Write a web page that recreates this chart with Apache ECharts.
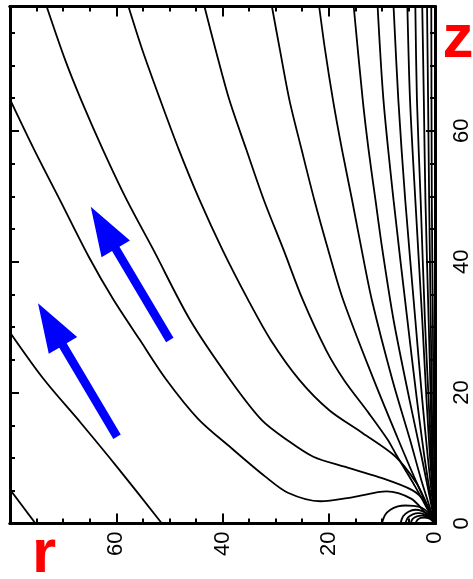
<!DOCTYPE html>
<html>
<head>
<meta charset="utf-8">
<script src="https://cdn.jsdelivr.net/npm/echarts@6/dist/echarts.min.js"></script>
<style>
  html, body { margin: 0; padding: 0; background: #fff; }
  #chart { width: 473px; height: 579px; }
</style>
</head>
<body>
<div id="chart"></div>
<script>
// tick labels
var rTickLabels = [0, 20, 40, 60];
var zTickLabels = [0, 20, 40, 60];

// field lines, points are [r, z]
var lineA = [[80, 5.2], [75.2, 0]];
var lineL = [[80, 29.2], [73.6, 22.0], [66.7, 15.4], [59.9, 8.7], [51.4, 0]];
var lineHump = [[80, 64.8], [75.5, 57.2], [70.4, 49.1], [65.2, 40.8], [60.6, 34.3], [55.6, 28.1], [50.6, 22.0],
  [44.6, 16.0], [38.3, 11.5], [32.0, 7.2], [27.7, 4.7], [21.6, 3.4], [15.6, 4.0], [9.1, 4.9], [4.5, 3.8], [2.0, 1.8], [0, 0]];
var lineT1 = [[73.1, 79], [69.6, 70.8], [66.6, 64.7], [62.5, 57.1], [58.0, 49.4], [53.0, 41.8], [46.1, 31.1],
  [38.5, 21.9], [32.6, 15.8], [27.9, 12.8], [22.9, 10.2], [16.7, 8.6], [10.6, 7.1], [4.3, 5.1], [1.9, 3.3], [0, 0]];
var lineT2 = [[57.7, 79], [55.1, 72.4], [51.7, 64.7], [48.2, 57.1], [44.3, 49.4], [40.0, 41.8], [35.2, 34.2],
  [30.9, 28.0], [25.5, 21.9], [19.9, 17.3], [13.6, 13.8], [7.4, 10.2], [3.5, 6.2], [1.9, 3.6], [0, 0]];
var lineT3 = [[43.4, 79], [41.3, 72.4], [38.7, 64.7], [35.5, 57.1], [32.2, 49.4], [28.5, 41.8], [24.9, 34.2],
  [20.5, 26.5], [17.1, 21.9], [12.5, 16.9], [8.9, 12.8], [7.3, 10.5], [3.7, 5.6], [0, 0]];
var lineT4 = [[30.7, 79], [29.2, 72.4], [27.4, 64.7], [25.1, 57.1], [22.7, 49.4], [20.1, 41.8], [17.3, 34.2],
  [11.5, 21.9], [6.9, 12.8], [3.7, 6.7], [0, 0]];
var lineT5 = [[21.8, 79], [20.7, 72.4], [19.2, 64.7], [17.5, 57.1], [15.6, 49.4], [13.8, 41.8], [11.9, 34.2],
  [8.0, 21.9], [4.7, 12.8], [2.6, 6.7], [0, 0]];
var lineT6 = [[15.3, 79], [13.6, 64.7], [12.5, 57.1], [11.2, 49.4], [9.9, 41.8], [7.8, 31.1], [4.8, 18.9], [2.4, 9.7], [0, 0]];
var lineT7 = [[10.8, 79], [9.7, 64.7], [7.8, 49.4], [5.2, 31.1], [3.4, 18.9], [1.9, 9.7], [0, 0]];
var lineT8 = [[7.8, 79], [6.9, 64.7], [5.6, 49.4], [3.7, 31.1], [2.4, 18.9], [1.3, 9.7], [0, 0]];
var lineT9 = [[5.2, 79], [4.7, 64.7], [3.7, 49.4], [2.4, 31.1], [1.6, 18.9], [0.9, 9.7], [0, 0]];
var lineT10 = [[3.7, 79], [3.4, 64.7], [2.7, 49.4], [1.9, 31.1], [1.2, 18.9], [0.7, 9.7], [0, 0]];
var lineT11 = [[2.4, 79], [2.1, 64.7], [1.8, 49.4], [1.2, 31.1], [0.8, 18.9], [0.6, 9.7], [0, 0]];
var lineT12 = [[1.5, 79], [1.3, 64.7], [1.1, 49.4], [0.8, 31.1], [0.6, 18.9], [0.4, 9.7], [0, 0]];
var lineT13 = [[0.7, 79], [0.6, 49.4], [0.4, 31.1], [0.3, 18.9], [0, 0]];

// small loops at the origin
var loop1 = [[10, 0], [9.4, 1.3], [8.4, 2.1], [7, 2.6], [5.6, 2.75], [4, 2.7], [2.5, 2.4], [1.2, 1.6], [0, 0]];
var loop2 = [[6.5, 0], [6.0, 1.1], [5.0, 1.8], [3.7, 2.1], [2.4, 1.9], [1.2, 1.3], [0, 0]];
var loop3 = [[5.6, 0], [5.1, 0.9], [4.2, 1.4], [3.1, 1.6], [2.0, 1.4], [1.0, 0.9], [0, 0]];
var loop4 = [[4.6, 0], [4.2, 0.7], [3.4, 1.1], [2.5, 1.2], [1.6, 1.05], [0.8, 0.7], [0, 0]];
var loop5 = [[3.7, 0], [3.3, 0.55], [2.7, 0.85], [2.0, 0.9], [1.3, 0.8], [0.6, 0.5], [0, 0]];

// blue arrows [r, z]
var arrowTails = [[59.85, 13.26], [49.92, 28.04]];
var arrowTips = [[74.73, 33.65], [64.8, 48.41]];

var fieldLines = [lineA, lineL, lineHump, lineT1, lineT2, lineT3, lineT4, lineT5, lineT6, lineT7,
  lineT8, lineT9, lineT10, lineT11, lineT12, lineT13, loop1, loop2, loop3, loop4, loop5];

var labelFont = '"Liberation Sans Narrow", "Liberation Sans", Arial, sans-serif';

function rAxis(pos, step, tickLen, showLabels) {
  return {
    type: 'value', min: 0, max: 80, interval: step, inverse: true, position: pos,
    axisLine: { show: true, onZero: false, lineStyle: { color: '#000', width: 3 } },
    axisTick: { show: true, inside: true, length: tickLen, lineStyle: { color: '#000', width: 2 } },
    axisLabel: {
      show: showLabels, rotate: 90, margin: 8, showMaxLabel: false,
      color: '#000', fontSize: 22, fontFamily: labelFont,
      formatter: function (v) { return rTickLabels.indexOf(v) >= 0 ? String(v) : ''; }
    },
    splitLine: { show: false }
  };
}

function zAxis(pos, step, tickLen, showLabels) {
  return {
    type: 'value', min: 0, max: 79, interval: step, position: pos,
    axisLine: { show: true, onZero: false, lineStyle: { color: '#000', width: 3 } },
    axisTick: { show: true, inside: true, length: tickLen, lineStyle: { color: '#000', width: 2 } },
    axisLabel: {
      show: showLabels, rotate: 90, margin: 16, showMaxLabel: false,
      color: '#000', fontSize: 22, fontFamily: labelFont,
      formatter: function (v) { return zTickLabels.indexOf(v) >= 0 ? String(v) : ''; }
    },
    splitLine: { show: false }
  };
}

var series = fieldLines.map(function (pts) {
  return {
    type: 'line', data: pts, xAxisIndex: 0, yAxisIndex: 0,
    showSymbol: false, smooth: 0.3, silent: true,
    lineStyle: { color: '#000', width: 1.8 }
  };
});

series.push({
  type: 'custom', xAxisIndex: 0, yAxisIndex: 0, silent: true,
  data: arrowTails.map(function (t, i) { return [t[0], t[1], arrowTips[i][0], arrowTips[i][1]]; }),
  encode: { x: [0, 2], y: [1, 3] },
  renderItem: function (params, api) {
    var p0 = api.coord([api.value(0), api.value(1)]);
    var p1 = api.coord([api.value(2), api.value(3)]);
    var dx = p1[0] - p0[0], dy = p1[1] - p0[1];
    var len = Math.sqrt(dx * dx + dy * dy);
    var ux = dx / len, uy = dy / len, nx = -uy, ny = ux;
    var headLen = 49, headW = 16.5, shaftW = 4.3;
    var bx = p1[0] - ux * headLen, by = p1[1] - uy * headLen;
    return {
      type: 'polygon',
      shape: {
        points: [
          [p0[0] + nx * shaftW, p0[1] + ny * shaftW],
          [bx + nx * shaftW, by + ny * shaftW],
          [bx + nx * headW, by + ny * headW],
          [p1[0], p1[1]],
          [bx - nx * headW, by - ny * headW],
          [bx - nx * shaftW, by - ny * shaftW],
          [p0[0] - nx * shaftW, p0[1] - ny * shaftW]
        ]
      },
      style: { fill: '#0000ff' }
    };
  }
});

var chart = echarts.init(document.getElementById('chart'));
chart.setOption({
  animation: false,
  backgroundColor: '#fff',
  grid: { left: 10, right: 33, top: 6.5, bottom: 55.5 },
  xAxis: [rAxis('bottom', 20, 10, true), rAxis('bottom', 5, 5, false), rAxis('top', 20, 10, false), rAxis('top', 5, 5, false)],
  yAxis: [zAxis('right', 20, 9, true), zAxis('right', 5, 5, false), zAxis('left', 20, 9, false), zAxis('left', 5, 5, false)],
  graphic: [
    { type: 'text', style: { text: 'z', x: 458, y: 40, textAlign: 'center', textVerticalAlign: 'middle',
      fill: '#ff0000', font: 'bold 62px ' + labelFont } },
    { type: 'text', style: { text: 'r', x: 44, y: 555, textAlign: 'center', textVerticalAlign: 'middle',
      fill: '#ff0000', font: 'bold 62px ' + labelFont } }
  ],
  series: series
});
</script>
</body>
</html>
